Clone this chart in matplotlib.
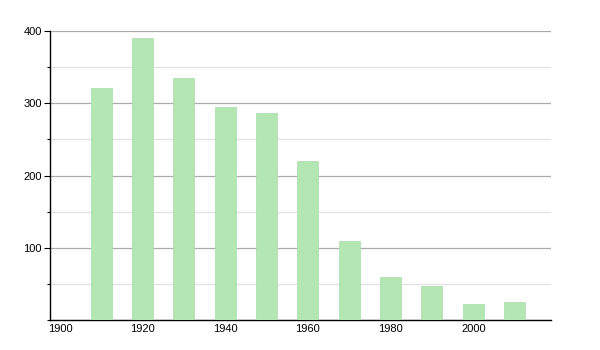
import matplotlib
matplotlib.use("Agg")
import matplotlib.pyplot as plt
from matplotlib.ticker import MultipleLocator

years = [1910, 1920, 1930, 1940, 1950, 1960, 1970, 1980, 1990, 2000, 2010]
population = [321, 390, 335, 295, 286, 220, 110, 60, 47, 22, 25]
x_ticks = [1900, 1920, 1940, 1960, 1980, 2000]
y_ticks = [100, 200, 300, 400]

plt.rcParams['font.family'] = ['Liberation Sans', 'DejaVu Sans']

fig = plt.figure(figsize=(6, 3.5), dpi=100)
ax = fig.add_axes([50/600, 30/350, 501/600, 289/350])

ax.bar(years, population, width=5.1, color='#b3e6b3', edgecolor='#a8dda8', linewidth=0.5, zorder=3)

ax.set_xlim(1897.6, 2018.8)
ax.set_ylim(0, 400)
ax.set_xticks(x_ticks)
ax.set_xticklabels([str(t) for t in x_ticks], fontsize=8)
ax.set_yticks(y_ticks)
ax.set_yticklabels([str(t) for t in y_ticks], fontsize=8)
ax.yaxis.set_minor_locator(MultipleLocator(50))

ax.grid(axis='y', which='major', color='#aaaaaa', linewidth=0.9, zorder=0)
ax.grid(axis='y', which='minor', color='#e2e2e2', linewidth=0.9, zorder=0)

for s in ['top', 'right']:
    ax.spines[s].set_visible(False)
ax.spines['left'].set_color('black')
ax.spines['bottom'].set_color('black')
ax.spines['left'].set_linewidth(1)
ax.spines['bottom'].set_linewidth(1)

ax.tick_params(axis='x', length=0, pad=3)
ax.tick_params(axis='y', which='major', length=4, width=0.8, pad=2)
ax.tick_params(axis='y', which='minor', length=2, width=0.8)

fig.savefig('out.png', dpi=100)
